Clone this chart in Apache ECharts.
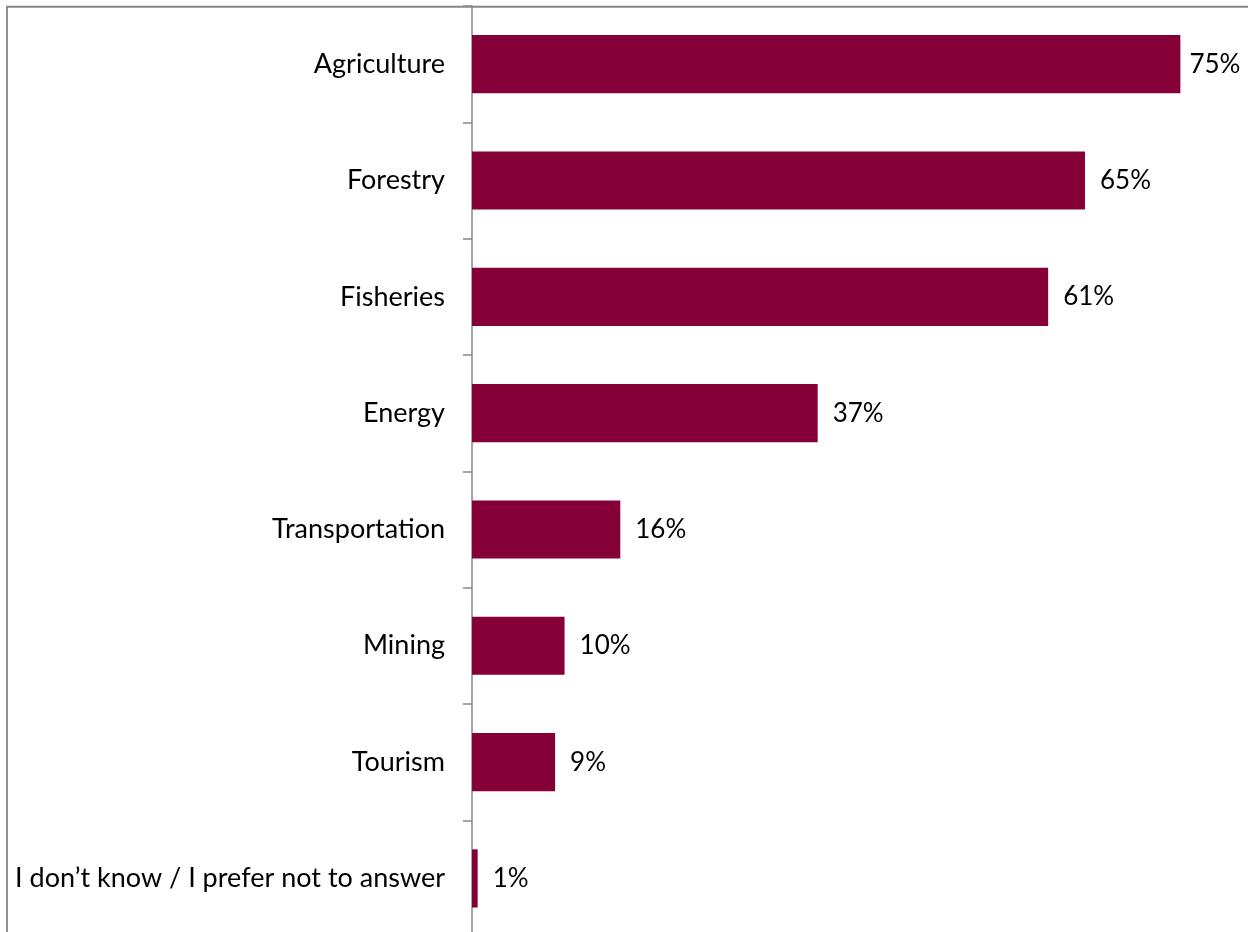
<!DOCTYPE html>
<html>
<head>
<meta charset="utf-8">
<script src="https://cdn.jsdelivr.net/npm/echarts@6/dist/echarts.min.js"></script>
<style>
html,body{margin:0;padding:0;background:#fff;}
#chart{width:1248px;height:932px;}
</style>
</head>
<body>
<div id="chart"></div>
<script>
const categories = ['Agriculture','Forestry','Fisheries','Energy','Transportation','Mining','Tourism','I don\u2019t know / I prefer not to answer'];
const values = [75.0, 64.9, 61.0, 36.6, 15.7, 9.8, 8.8, 0.6];

const maxVal = Math.max(...values);
const seriesData = values.map(v => v === maxVal ? {value:v, label:{distance:9}} : v);

const chart = echarts.init(document.getElementById('chart'), null, {renderer:'canvas'});
chart.setOption({
  backgroundColor:'#fff',
  animation:false,
  graphic:[{
    type:'rect',
    shape:{x:7, y:6.75, width:1400, height:1000},
    style:{fill:'none', stroke:'#878787', lineWidth:1.8},
    z:-1
  }],
  grid:{left:472, top:6, height:930.6, right:20.4, containLabel:false, outerBoundsMode:'none'},
  xAxis:{type:'value', min:0, max:80, show:false},
  yAxis:{
    type:'category', data:categories, inverse:true,
    axisLine:{show:true, lineStyle:{color:'#888', width:1.5}},
    axisTick:{show:true, length:9, lineStyle:{color:'#888', width:1.5}},
    axisLabel:{color:'#000', fontFamily:'Lato', fontSize:27, margin:27, padding:[4,0,0,0]}
  },
  series:[{
    type:'bar', data:seriesData, barWidth:'50%',
    itemStyle:{color:'#860038'},
    label:{show:true, position:'right', distance:15, color:'#000', fontFamily:'Lato', fontSize:26,
      padding:[4,0,0,0],
      formatter:p=>Math.round(p.value)+'%'}
  }]
});
</script>
</body>
</html>
